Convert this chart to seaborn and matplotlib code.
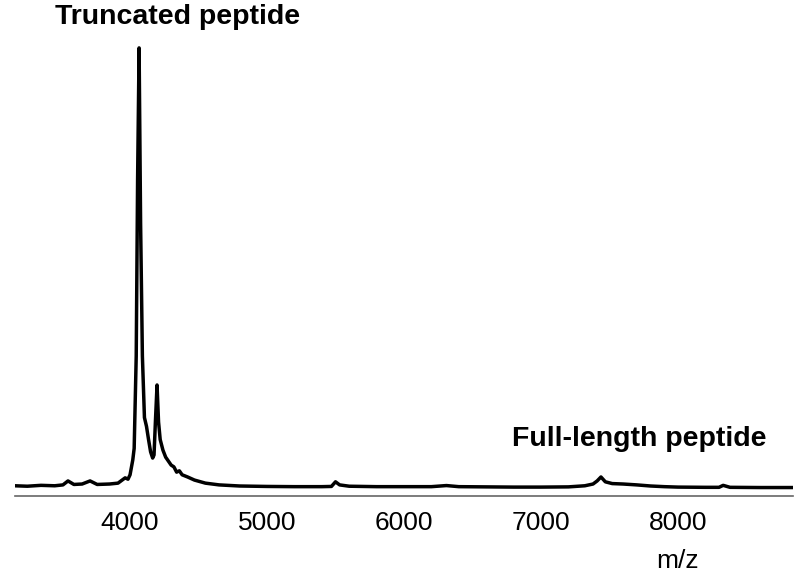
import seaborn as sns
import matplotlib.pyplot as plt
import pandas as pd

# ----------------------------
# Spectrum values (relative intensity, main peak = 100)
# ----------------------------
mz = [3160, 3250, 3350, 3450, 3510, 3547, 3590, 3650, 3708, 3760, 3850, 3912,
      3964, 3985, 4000, 4020, 4030, 4045, 4055, 4066, 4077, 4090, 4105, 4120,
      4135, 4150, 4165, 4175, 4185, 4197, 4208, 4220, 4240, 4260, 4280, 4300,
      4320, 4340, 4360, 4380, 4420, 4470, 4550, 4650, 4800, 5000, 5200, 5400,
      5470, 5500, 5530, 5600, 5800, 6000, 6200, 6310, 6400, 6600, 6800, 7000,
      7200, 7320, 7380, 7410, 7438, 7470, 7520, 7600, 7700, 7800, 7900, 8000,
      8200, 8300, 8330, 8380, 8600, 8840]
intensity = [0.5, 0.4, 0.6, 0.5, 0.7, 1.6, 0.8, 0.9, 1.6, 0.8, 0.9, 1.1,
             2.3, 2.0, 3.0, 6.4, 9.0, 30, 70, 100, 60, 30, 16, 14,
             11, 8.2, 6.8, 7.5, 15, 23.4, 15, 11, 8.6, 7.0, 6.1, 5.2,
             4.8, 3.6, 3.9, 3.0, 2.5, 1.8, 1.1, 0.7, 0.45, 0.35, 0.3, 0.3,
             0.35, 1.4, 0.7, 0.4, 0.3, 0.3, 0.3, 0.55, 0.3, 0.25, 0.2, 0.2,
             0.25, 0.5, 0.9, 1.6, 2.5, 1.4, 1.0, 0.9, 0.7, 0.45, 0.3, 0.2,
             0.15, 0.15, 0.6, 0.15, 0.1, 0.1]

tick_values = [4000, 5000, 6000, 7000, 8000]

df = pd.DataFrame({'m/z': mz, 'Intensity': intensity})

# ----------------------------
# Plot
# ----------------------------
sns.set_style("white")
plt.rcParams['font.family'] = ['Liberation Sans', 'DejaVu Sans']
plt.rcParams['text.color'] = 'black'
plt.rcParams['xtick.color'] = 'black'

fig = plt.figure(figsize=(8, 5.77), dpi=100)
ax = fig.add_axes([0.01875, 0.1404, 0.9725, 0.7903])

sns.lineplot(data=df, x='m/z', y='Intensity', color='black',
             linewidth=2.5, ax=ax)

ax.set_xlim(3160, 8840)
ax.set_ylim(-1.82, 101.8)

for side in ['left', 'right', 'top']:
    ax.spines[side].set_visible(False)
ax.spines['bottom'].set_color('#666666')
ax.spines['bottom'].set_linewidth(1.2)

ax.set_yticks([])
ax.set_xticks(tick_values)
ax.set_xticklabels([str(t) for t in tick_values], fontsize=19, color='black')
ax.tick_params(axis='x', direction='inout', length=8, width=1.0,
               color='#555555', pad=7)
ax.set_xlabel('')
ax.set_ylabel('')

# annotations (positions in figure pixels, from the top-left)
ax.text(55 / 800, 1 - 17 / 577, 'Truncated peptide', transform=fig.transFigure,
        fontsize=20.5, fontweight='bold', ha='left', va='center')
ax.text(512 / 800, 1 - 439 / 577, 'Full-length peptide', transform=fig.transFigure,
        fontsize=20.5, fontweight='bold', ha='left', va='center')
ax.annotate('m/z', xy=(8000, 0), xycoords=('data', 'axes fraction'),
            xytext=(0, -47), textcoords='offset points',
            fontsize=19, ha='center', va='center')

plt.savefig('out.png', dpi=100)
plt.close()
